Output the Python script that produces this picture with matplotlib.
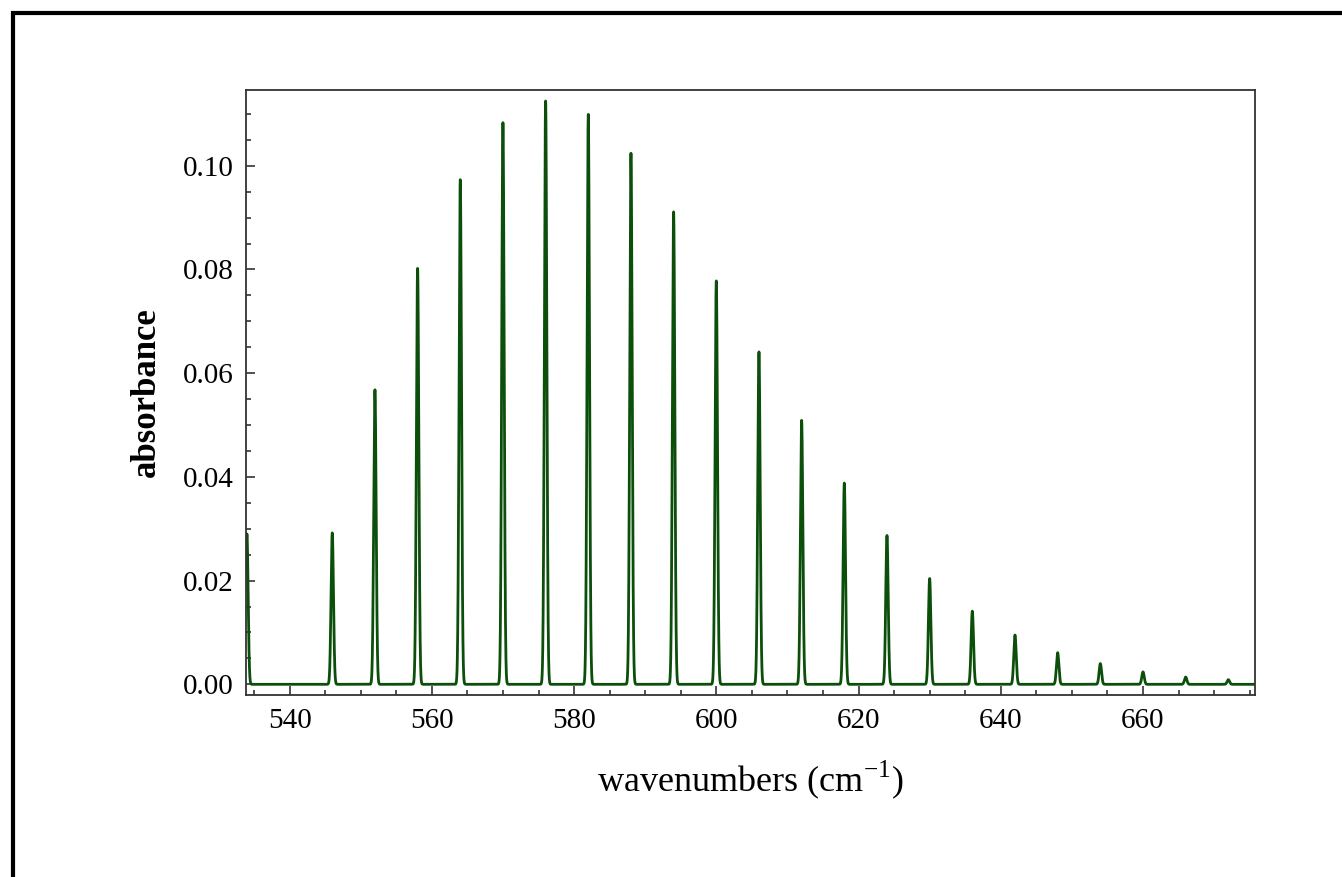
import matplotlib

matplotlib.use("Agg")
import matplotlib.pyplot as plt
import numpy as np
from matplotlib.patches import Rectangle
from matplotlib.ticker import MultipleLocator, FormatStrFormatter

plt.rcParams["font.family"] = ["Liberation Serif", "DejaVu Serif"]
plt.rcParams["mathtext.fontset"] = "custom"
plt.rcParams["mathtext.rm"] = "Liberation Serif"

# line centres (cm^-1) and peak absorbance
centri = [534, 546, 552, 558, 564, 570, 576, 582, 588, 594, 600,
          606, 612, 618, 624, 630, 636, 642, 648, 654, 660, 666, 672]
altezze = [0.0290, 0.0292, 0.0568, 0.0802, 0.0973, 0.1083, 0.1125, 0.1099,
           0.1024, 0.0911, 0.0778, 0.0641, 0.0509, 0.0388, 0.0287, 0.0204,
           0.0141, 0.0095, 0.0061, 0.0040, 0.0024, 0.0014, 0.0009]
sigma = 0.17  # width of each line

x = np.linspace(533.87, 675.75, 20000)
y = np.zeros_like(x)
for c, h in zip(centri, altezze):
    y += h * np.exp(-0.5 * ((x - c) / sigma) ** 2)

fig = plt.figure(figsize=(13.42, 8.77), dpi=100)
W, H = 1342.0, 877.0
ax = fig.add_axes([246 / W, 1 - 695 / H, (1255 - 246) / W, (695 - 90) / H])

ax.plot(x, y, color="#0b4f0b", lw=2.0)
ax.set_xlim(533.87, 675.75)
ax.set_ylim(-0.00206, 0.1146)

ax.xaxis.set_major_locator(MultipleLocator(20))
ax.xaxis.set_minor_locator(MultipleLocator(5))
ax.yaxis.set_major_locator(MultipleLocator(0.02))
ax.yaxis.set_minor_locator(MultipleLocator(0.005))
ax.yaxis.set_major_formatter(FormatStrFormatter("%.2f"))

ax.tick_params(which="both", direction="in", top=False, right=False,
               labelsize=21, width=1.1, color="#222222")
ax.tick_params(which="major", length=6.5, pad=9)
ax.tick_params(which="minor", length=3.6)
for s in ax.spines.values():
    s.set_linewidth(1.3)
    s.set_color("#333333")

ax.set_xlabel(r"wavenumbers (cm$^{-1}$)", fontsize=26, labelpad=18)
ax.set_ylabel("absorbance", fontsize=25, fontweight="bold", labelpad=14)

# outer frame (runs off the right and bottom of the picture)
fig.add_artist(Rectangle((13 / W, -0.2), 1.5, 1 - 13 / H + 0.2,
                         transform=fig.transFigure, fill=False,
                         lw=3, edgecolor="black"))

plt.savefig("out.png", dpi=100)
plt.close()
